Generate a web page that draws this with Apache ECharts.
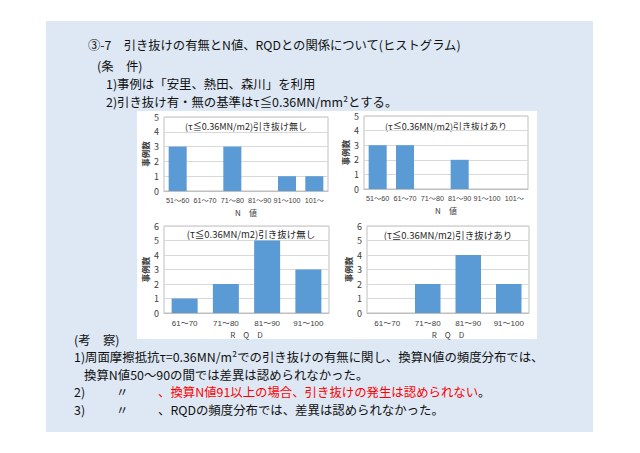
<!DOCTYPE html>
<html>
<head>
<meta charset="utf-8">
<script src="https://cdn.jsdelivr.net/npm/echarts@6/dist/echarts.min.js"></script>
<style>
html,body{margin:0;padding:0;background:#fff;}
#c{width:640px;height:453px;}
</style>
</head>
<body>
<div id="c"></div>
<script>
// ---- data ----
const nCategories = ['51～60', '61～70', '71～80', '81～90', '91～100', '101～'];
const rqdCategories = ['61～70', '71～80', '81～90', '91～100'];
const nNone = [3, 0, 3, 0, 1, 1];      // 引き抜け無し (N値)
const nYes = [3, 3, 0, 2, 0, 0];       // 引き抜けあり (N値)
const rqdNone = [1, 2, 5, 3];          // 引き抜け無し (RQD)
const rqdYes = [0, 2, 4, 2];           // 引き抜けあり (RQD)
const chartTitles = ['(τ≦0.36MN/m2)引き抜け無し', '(τ≦0.36MN/m2)引き抜けあり', '(τ≦0.36MN/m2)引き抜け無し', '(τ≦0.36MN/m2)引き抜けあり'];

const FONT = '"Noto Sans CJK JP", "Noto Sans", sans-serif';
const LBL = '"Liberation Sans", "Noto Sans CJK JP", sans-serif';
const BAR = '#5b9bd5';

const grids = [
  {left: 164, top: 117, width: 164, height: 74},
  {left: 364, top: 116, width: 164, height: 73},
  {left: 164, top: 226, width: 165, height: 87},
  {left: 367, top: 226, width: 162, height: 87}
].map(g => Object.assign({show: true, borderColor: '#bfbfbf', borderWidth: 1, backgroundColor: 'transparent'}, g));

function xAx(i, cats, name, fs) {
  return {
    type: 'category', gridIndex: i, data: cats,
    name: name, nameLocation: 'middle', nameGap: 17,
    nameTextStyle: {fontFamily: FONT, fontSize: 8, color: '#404040'},
    axisTick: {show: false},
    axisLine: {lineStyle: {color: '#bfbfbf'}},
    axisLabel: {fontFamily: LBL, fontSize: fs, color: '#404040', margin: 6, interval: 0}
  };
}
function yAx(i, max) {
  return {
    type: 'value', gridIndex: i, min: 0, max: max, interval: 1,
    name: '事例数', nameLocation: 'middle', nameRotate: 90, nameGap: 15,
    nameTextStyle: {fontFamily: FONT, fontSize: 8.5, fontWeight: 'bold', color: '#404040'},
    axisLine: {show: false}, axisTick: {show: false},
    splitLine: {lineStyle: {color: '#d9d9d9'}},
    axisLabel: {fontFamily: FONT, fontSize: 9, color: '#404040', margin: 5}
  };
}
function ser(i, data, gap) {
  return {type: 'bar', xAxisIndex: i, yAxisIndex: i, data: data, barCategoryGap: gap,
    itemStyle: {color: BAR}, silent: true, animation: false};
}

const FS = 12.4;
function txt(x, y, text, opts) {
  return {type: 'text', x: x, y: y, silent: true,
    style: Object.assign({text: text, fontFamily: FONT, fontSize: FS, fill: '#111', verticalAlign: 'middle', align: 'left'}, opts || {})};
}

const graphics = [
  {type: 'rect', shape: {x: 46, y: 21, width: 547, height: 411}, style: {fill: '#dde8f4'}, silent: true, z: -10},
  {type: 'rect', shape: {x: 137, y: 111, width: 400, height: 228}, style: {fill: '#ffffff'}, silent: true, z: -9},
  txt(88, 45, '③-7　引き抜けの有無とN値、RQDとの関係について(ヒストグラム)', {fontSize: 12.3}),
  txt(97, 66, '(条　件)'),
  txt(106, 84, '1)事例は「安里、熱田、森川」を利用'),
  txt(106, 101.5, '2)引き抜け有・無の基準はτ≦0.36MN/mm²とする。'),
  txt(74, 340, '(考　察)'),
  txt(74, 357.4, '1)周面摩擦抵抗τ=0.36MN/m²での引き抜けの有無に関し、換算N値の頻度分布では、'),
  txt(84, 374.8, '換算N値50～90の間では差異は認められなかった。'),
  txt(74, 392.2, '2)'), txt(116, 392.2, '〃'),
  {type: 'text', x: 158, y: 392.2, silent: true, style: {
    text: '{r|、換算N値91以上の場合、引き抜けの発生は認められない}{k|。}',
    fontFamily: FONT, fontSize: FS, verticalAlign: 'middle',
    rich: {r: {fill: '#ff0000', fontFamily: FONT, fontSize: FS}, k: {fill: '#111', fontFamily: FONT, fontSize: FS}}
  }},
  txt(74, 409.6, '3)'), txt(116, 409.6, '〃'),
  txt(158, 409.6, '、RQDの頻度分布では、差異は認められなかった。'),
  txt(246, 126, chartTitles[0], {fontSize: 9, align: 'center', fill: '#262626'}),
  txt(446, 126, chartTitles[1], {fontSize: 9, align: 'center', fill: '#262626'}),
  txt(251, 234, chartTitles[2], {fontSize: 9.5, align: 'center', fill: '#262626'}),
  txt(448, 235, chartTitles[3], {fontSize: 9.5, align: 'center', fill: '#262626'})
];

const chart = echarts.init(document.getElementById('c'), null, {renderer: 'svg', width: 640, height: 453});
chart.setOption({
  animation: false,
  backgroundColor: '#ffffff',
  grid: grids,
  xAxis: [xAx(0, nCategories, 'N　値', 7.2), xAx(1, nCategories, 'N　値', 7.2), xAx(2, rqdCategories, 'R　Q　D', 8), xAx(3, rqdCategories, 'R　Q　D', 8)],
  yAxis: [yAx(0, 5), yAx(1, 5), yAx(2, 6), yAx(3, 6)],
  series: [ser(0, nNone, '34%'), ser(1, nYes, '34%'), ser(2, rqdNone, '37%'), ser(3, rqdYes, '37%')],
  graphic: graphics
});
</script>
</body>
</html>
